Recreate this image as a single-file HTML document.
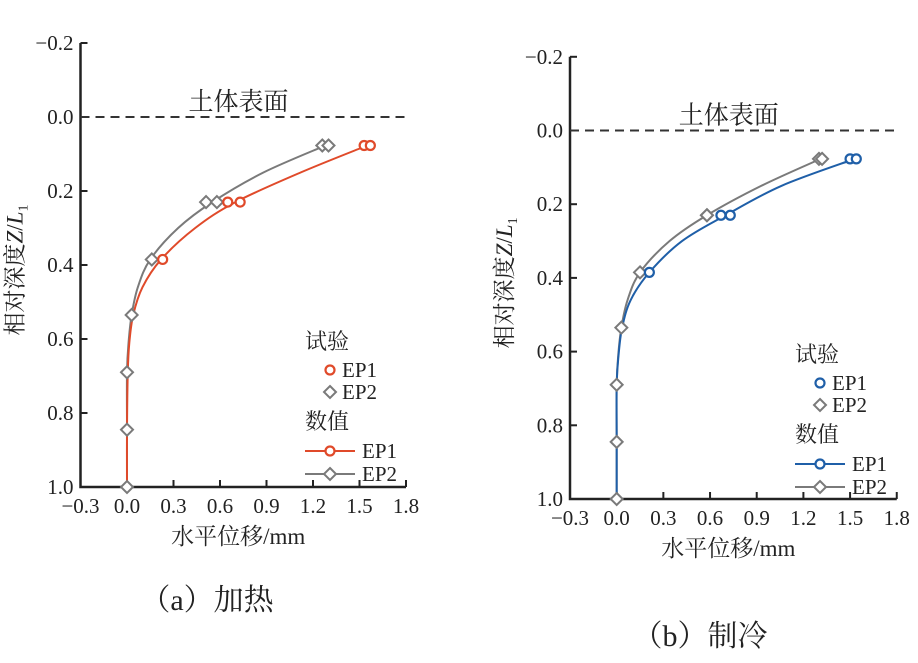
<!DOCTYPE html>
<html><head><meta charset="utf-8"><style>
body{margin:0;background:#fff;width:918px;height:658px;overflow:hidden}
text{font-family:"Liberation Serif","Noto Serif CJK SC",serif;fill:#222}
</style></head><body>
<svg id="svg" width="918" height="658">
</svg>
<script>
const xTicks=[-0.3,0.0,0.3,0.6,0.9,1.2,1.5,1.8];
const yTicks=[-0.2,0.0,0.2,0.4,0.6,0.8,1.0];
const testDepths=[0.077,0.077,0.23,0.23,0.385,0.535,0.69,0.845,1.0];
const aTestEP1=[1.53,1.57,0.65,0.73,0.23,null,null,null,null];
const aTestEP2=[1.26,1.30,0.51,0.58,0.16,0.03,0.0,0.0,0.0];
const bTestEP1=[1.50,1.54,0.67,0.73,0.21,null,null,null,null];
const bTestEP2=[1.30,1.32,0.58,0.58,0.15,0.03,0.0,0.0,0.0];
const numDepths=[0.077,0.15,0.23,0.3,0.385,0.46,0.535,0.61,0.69,0.845,1.0];
const aNumEP1=[1.55,1.12,0.70,0.44,0.22,0.10,0.04,0.015,0.005,0,0];
const aNumEP2=[1.28,0.88,0.55,0.33,0.15,0.07,0.03,0.01,0.0,0,0];
const bNumEP1=[1.53,1.06,0.70,0.42,0.21,0.09,0.035,0.012,0.0,0,0];
const bNumEP2=[1.31,0.93,0.58,0.34,0.15,0.07,0.03,0.01,0.0,0,0];
const NS="http://www.w3.org/2000/svg";
const svg=document.getElementById('svg');
function mk(t,a,p){const e=document.createElementNS(NS,t);for(const k in a)e.setAttribute(k,a[k]);(p||svg).appendChild(e);return e;}
function smooth(pts){let d=`M${pts[0][0]},${pts[0][1]}`;for(let i=0;i<pts.length-1;i++){const p0=pts[i-1]||pts[i],p1=pts[i],p2=pts[i+1],p3=pts[i+2]||p2;d+=` C${p1[0]+(p2[0]-p0[0])/6},${p1[1]+(p2[1]-p0[1])/6} ${p2[0]-(p3[0]-p1[0])/6},${p2[1]-(p3[1]-p1[1])/6} ${p2[0]},${p2[1]}`;}return d;}
function circle(g,x,y,c){const e=mk('circle',{cx:x,cy:y,r:4.5,fill:'#fff',stroke:c,'stroke-width':2.2},g);}
function diamond(g,x,y){const e=mk('path',{d:`M${x},${y-6}L${x+6},${y}L${x},${y+6}L${x-6},${y}Z`,fill:'#fff',stroke:'#7a7a7a','stroke-width':2},g);}
function chart(o){
 const g=mk('g',{});
 const X=v=>o.x0+(v+0.3)*o.sx, Y=v=>o.y1-(1-v)*o.sy;
 const xL=X(-0.3),xR=X(1.8),yT=Y(-0.2),yB=Y(1.0);
 const ax=mk('path',{d:`M${xL},${yT}V${yB}H${xR}`,fill:'none',stroke:'#222','stroke-width':2.5},g);
 
 xTicks.forEach(t=>{mk('line',{x1:X(t),x2:X(t),y1:yB,y2:yB-7,stroke:'#222','stroke-width':2},g);
  const tx=mk('text',{x:X(t),y:yB+26,'text-anchor':'middle','font-size':21},g);tx.textContent=(t<0?'−':'')+Math.abs(t).toFixed(1);
  });
 yTicks.forEach(t=>{mk('line',{x1:xL,x2:xL+7,y1:Y(t),y2:Y(t),stroke:'#222','stroke-width':2},g);
  const tx=mk('text',{x:xL-7,y:Y(t)+7,'text-anchor':'end','font-size':21},g);tx.textContent=(t<0?'−':'')+Math.abs(t).toFixed(1);
  });
 const sl=mk('line',{x1:xL,x2:xR,y1:Y(0),y2:Y(0),stroke:'#333','stroke-width':2,'stroke-dasharray':'9,6'},g);
 
 const st=mk('text',{x:X(0.9)-28,y:Y(0)-7,'text-anchor':'middle','font-size':25},g);st.textContent='土体表面';
 
 const l2=mk('path',{d:smooth(numDepths.map((d,i)=>[X(o.n2[i]),Y(d)])),fill:'none',stroke:'#7a7a7a','stroke-width':2},g);
 
 const l1=mk('path',{d:smooth(numDepths.map((d,i)=>[X(o.n1[i]),Y(d)])),fill:'none',stroke:o.c,'stroke-width':2},g);
 
 testDepths.forEach((d,i)=>{if(o.t2[i]!=null)diamond(g,X(o.t2[i]),Y(d));});
 testDepths.forEach((d,i)=>{if(o.t1[i]!=null)circle(g,X(o.t1[i]),Y(d),o.c);});
 const lx=o.lx,ly=o.ly;
 const lg=mk('g',{},g);
 const T=(x,y,s,fs)=>{const t=mk('text',{x:x,y:y,'font-size':fs},lg);t.textContent=s;};
 T(lx,ly,'试验',22);circle(lg,lx+25,ly+21,o.c);T(lx+37,ly+28,'EP1',21);
 diamond(lg,lx+25,ly+43);T(lx+37,ly+50,'EP2',21);
 T(lx,ly+80,'数值',22);
 mk('line',{x1:lx,x2:lx+50,y1:ly+102,y2:ly+102,stroke:o.c,'stroke-width':2},lg);circle(lg,lx+25,ly+102,o.c);T(lx+57,ly+109,'EP1',21);
 mk('line',{x1:lx,x2:lx+50,y1:ly+125,y2:ly+125,stroke:'#7a7a7a','stroke-width':2},lg);diamond(lg,lx+25,ly+125);T(lx+57,ly+132,'EP2',21);
 const xt=mk('text',{x:(xL+xR)/2-5,y:yB+57,'text-anchor':'middle','font-size':23},g);xt.textContent='水平位移/mm';
 
 const yt=mk('text',{x:0,y:0,'text-anchor':'middle','font-size':23,transform:`translate(${xL-58},${(yT+yB)/2+5}) rotate(-90)`},g);
 yt.innerHTML='相对深度<tspan font-style="italic">Z</tspan>/<tspan font-style="italic">L</tspan><tspan font-size="14" dy="5">1</tspan>';
 
 const cp=mk('text',{x:o.capx,y:o.capy,'text-anchor':'middle','font-size':30},g);cp.textContent=o.cap;
 
}
chart({name:'chart-heating',x0:80.5,sx:155,y1:487,sy:370,c:'#e04a2a',t1:aTestEP1,t2:aTestEP2,n1:aNumEP1,n2:aNumEP2,lx:305,ly:349,cap:'（a）加热',capx:207,capy:610});
chart({name:'chart-cooling',x0:570,sx:155.6,y1:499,sy:368.5,c:'#1f5fa8',t1:bTestEP1,t2:bTestEP2,n1:bNumEP1,n2:bNumEP2,lx:795,ly:362,cap:'（b）制冷',capx:700,capy:646});
</script>
</body></html>
